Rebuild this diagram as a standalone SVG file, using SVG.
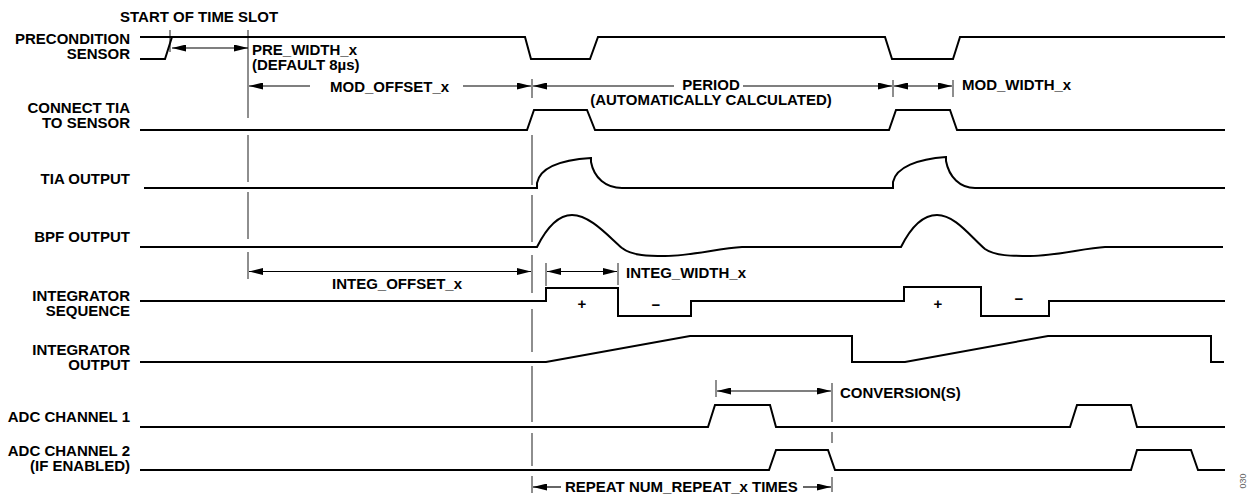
<svg xmlns="http://www.w3.org/2000/svg" width="1249" height="497" viewBox="0 0 1249 497">
<style>
text{font-family:"Liberation Sans",Arial,sans-serif;font-weight:bold;font-size:15px;fill:#000}
.lbl{text-anchor:end}
.mid{text-anchor:middle}
.sig{fill:none;stroke:#000;stroke-width:2;stroke-linejoin:miter}
.ref{stroke:#444;stroke-width:1.2;fill:none}
.arr{stroke:#000;stroke-width:1.2;fill:none}
.sgn{font-size:15px;text-anchor:middle}
.fig{font-family:"Liberation Sans",Arial,sans-serif;font-weight:normal;font-size:9px;fill:#666}
</style>
<defs>
<marker id="ah" viewBox="0 0 14 7" refX="14" refY="3.5" markerWidth="14" markerHeight="7" markerUnits="userSpaceOnUse" orient="auto-start-reverse"><path d="M0,0 L14,3.5 L0,7 Z" fill="#000"/></marker>
</defs>
<rect width="1249" height="497" fill="#fff"/>

<g id="reference-lines">
<path class="ref" d="M170,30 V52"/>
<path class="ref" d="M248,30 V118 M248,135 V182 M248,192 V239 M248,252 V279"/>
<path class="ref" d="M532,79 V98 M532,135 V185 M532,195 V242 M532,255 V293 M532,309 V352 M532,366 V422 M532,433 V466 M532,476 V493"/>
<path class="ref" d="M546,263 V286 M618,263 V285"/>
<path class="ref" d="M893,80 V97 M953,80 V97"/>
<path class="ref" d="M716,380 V397 M832,383 V422 M832,432 V443 M832,477 V492"/>
</g>

<g id="precondition-sensor">
<text class="lbl" x="130" y="43.5">PRECONDITION</text>
<text class="lbl" x="130" y="58.5">SENSOR</text>
<path class="sig" d="M140,59 L165,59 L172,37 M140,37 L525,37 L531,59 L590,59 L598,37 L885,37 L892,59 L953,59 L960,37 L1225,37"/>
</g>

<g id="connect-tia">
<text class="lbl" x="130" y="113">CONNECT TIA</text>
<text class="lbl" x="130" y="128">TO SENSOR</text>
<path class="sig" d="M140,130 L527,130 L534,110 L587,110 L595,130 L889,130 L896,110 L950,110 L957,130 L1225,130"/>
</g>

<g id="tia-output">
<text class="lbl" x="130" y="184">TIA OUTPUT</text>
<path class="sig" d="M144,188 L537,188 L537,183 C540,168 560,160 591,158 L591,162 C594,178 606,188 622,188 L893,188 L893,182 C896,167 918,159 946,157 L946,161 C949,177 960,188 975,188 L1225,188"/>
</g>

<g id="bpf-output">
<text class="lbl" x="130" y="242">BPF OUTPUT</text>
<path class="sig" d="M140,247 L537,247 C547,227 558,215 572,215 C590,215 608,236 622,248 C632,256 650,256 665,256 C690,256 720,248 742,247 L901,247 C911,227 922,215 937,215 C955,215 970,236 985,249 C995,256 1012,256 1030,256 C1055,256 1085,248 1105,247 L1223,247"/>
</g>

<g id="integrator-sequence">
<text class="lbl" x="130" y="301">INTEGRATOR</text>
<text class="lbl" x="130" y="316">SEQUENCE</text>
<path class="sig" d="M140,301 L546,301 L546,288 L618,288 L618,316 L691,316 L691,301 L904,301 L904,287 L981,287 L981,316 L1049,316 L1049,301 L1225,301"/>
<text class="sgn" x="582" y="309">+</text>
<text class="sgn" x="656" y="310">−</text>
<text class="sgn" x="938" y="309">+</text>
<text class="sgn" x="1019" y="304">−</text>
</g>

<g id="integrator-output">
<text class="lbl" x="130" y="354.5">INTEGRATOR</text>
<text class="lbl" x="130" y="369.5">OUTPUT</text>
<path class="sig" d="M140,362 L546,362 L690,336 L852,336 L852,362 L905,362 L1048,336 L1211,336 L1211,362 L1224,362"/>
</g>

<g id="adc-channel-1">
<text class="lbl" x="130" y="421.5">ADC CHANNEL 1</text>
<path class="sig" d="M140,427 L708,427 L715,405 L770,405 L776,427 L1070,427 L1077,405 L1131,405 L1137,427 L1225,427"/>
</g>

<g id="adc-channel-2">
<text class="lbl" x="130" y="456">ADC CHANNEL 2</text>
<text class="lbl" x="130" y="471">(IF ENABLED)</text>
<path class="sig" d="M140,470 L769,470 L776,450 L828,450 L835,470 L1131,470 L1137,450 L1191,450 L1198,470 L1225,470"/>
</g>

<g id="connectors">
<line class="arr" x1="172" y1="48" x2="248" y2="48" marker-start="url(#ah)" marker-end="url(#ah)"/>
<line class="arr" x1="310" y1="86" x2="249" y2="86" marker-end="url(#ah)"/>
<line class="arr" x1="463" y1="86" x2="531" y2="86" marker-end="url(#ah)"/>
<line class="arr" x1="674" y1="86" x2="533" y2="86" marker-end="url(#ah)"/>
<line class="arr" x1="743" y1="86" x2="892" y2="86" marker-end="url(#ah)"/>
<line class="arr" x1="894" y1="86" x2="952" y2="86" marker-start="url(#ah)" marker-end="url(#ah)"/>
<line class="arr" x1="249" y1="271.5" x2="531" y2="271.5" marker-start="url(#ah)" marker-end="url(#ah)"/>
<line class="arr" x1="547" y1="271.5" x2="617" y2="271.5" marker-start="url(#ah)" marker-end="url(#ah)"/>
<line class="arr" x1="717" y1="391" x2="831" y2="391" marker-start="url(#ah)" marker-end="url(#ah)"/>
<line class="arr" x1="561" y1="487" x2="533" y2="487" marker-end="url(#ah)"/>
<line class="arr" x1="803" y1="487" x2="831" y2="487" marker-end="url(#ah)"/>
</g>

<g id="annotations">
<text x="120" y="22">START OF TIME SLOT</text>
<text x="252" y="55">PRE_WIDTH_x</text>
<text x="252" y="70">(DEFAULT 8µs)</text>
<text x="330" y="91.5">MOD_OFFSET_x</text>
<text class="mid" x="711" y="89.5">PERIOD</text>
<text class="mid" x="711" y="104.5">(AUTOMATICALLY CALCULATED)</text>
<text x="962" y="90">MOD_WIDTH_x</text>
<text x="332" y="288.5">INTEG_OFFSET_x</text>
<text x="626" y="277.5">INTEG_WIDTH_x</text>
<text x="840" y="397.5">CONVERSION(S)</text>
<text x="565" y="491.5">REPEAT NUM_REPEAT_x TIMES</text>
<text class="fig" transform="translate(1246,481) rotate(-90)" text-anchor="middle">030</text>
</g>
</svg>
